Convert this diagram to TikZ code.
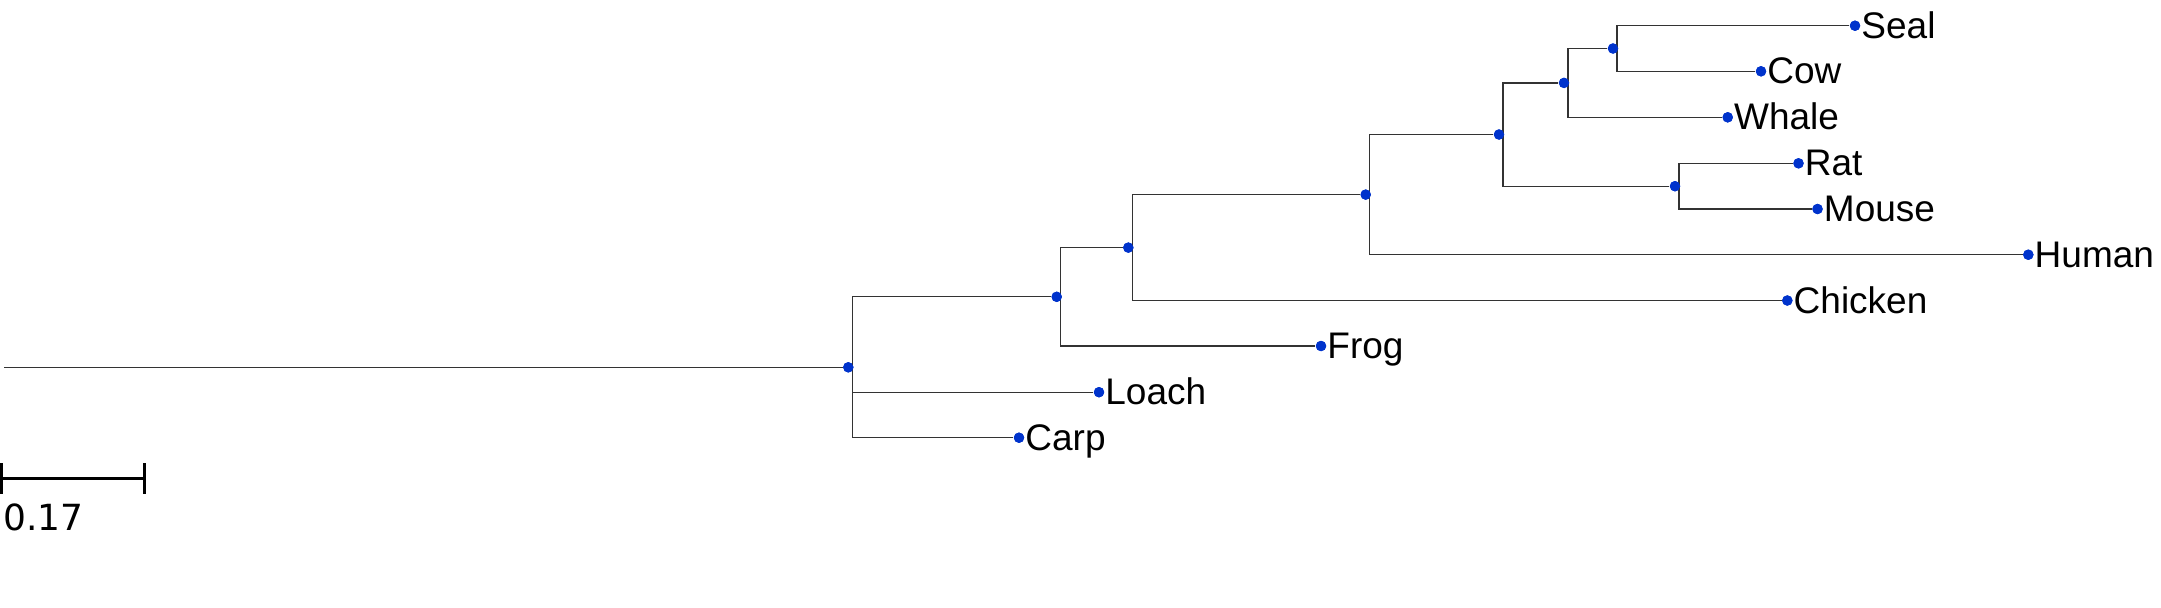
\documentclass[tikz,border=0pt]{standalone}
\usepackage{fontspec}
\setmainfont{Liberation Sans}
\newfontfamily\dejavu{DejaVu Sans}
\definecolor{dotblue}{RGB}{0,51,204}
\begin{document}
\begin{tikzpicture}[x=0.5pt,y=-0.5pt,
  dotnode/.style={circle,fill=dotblue,inner sep=0pt,minimum size=5.2pt},
  branch/.style={draw=black!80,line width=0.6pt},
  lab/.style={anchor=base west,inner sep=0pt,font=\fontsize{18.5pt}{20pt}\selectfont},
  scalebar/.style={draw=black,line width=1.3pt}]
\useasboundingbox (0,0) rectangle (2161,607);
% internal nodes
\node[dotnode] (R)  at (848.3,367.3) {};
\node[dotnode] (n1) at (1056.7,296.8) {};
\node[dotnode] (n2) at (1128.3,247.6) {};
\node[dotnode] (n3) at (1365.7,194.6) {};
\node[dotnode] (n4) at (1499,134.5) {};
\node[dotnode] (n5) at (1564,82.9) {};
\node[dotnode] (n6) at (1613,48.5) {};
\node[dotnode] (n7) at (1675,186.2) {};
% tips
\node[dotnode] (seal)    at (1855,25.7) {};
\node[dotnode] (cow)     at (1761,71.3) {};
\node[dotnode] (whale)   at (1727.7,117.3) {};
\node[dotnode] (rat)     at (1798.5,163.3) {};
\node[dotnode] (mouse)   at (1817.5,209) {};
\node[dotnode] (human)   at (2028.3,254.7) {};
\node[dotnode] (chicken) at (1787.3,300.5) {};
\node[dotnode] (frog)    at (1321,346) {};
\node[dotnode] (loach)   at (1099,392.2) {};
\node[dotnode] (carp)    at (1019,437.7) {};
\coordinate (rootstart) at (4,367.3);
% branches
\draw[branch] (rootstart) -- (R);
\foreach \p/\c in {R/n1,R/loach,R/carp,n1/n2,n1/frog,n2/n3,n2/chicken,n3/n4,n3/human,n4/n5,n4/n7,n5/n6,n5/whale,n6/seal,n6/cow,n7/rat,n7/mouse}
  \draw[branch] ([xshift=2pt]\p.center) |- (\c);
% dots on top
\foreach \n in {R,n1,n2,n3,n4,n5,n6,n7,seal,cow,whale,rat,mouse,human,chicken,frog,loach,carp}
  \fill[dotblue] (\n.center) circle (2.6pt);
% labels
\foreach \n/\t in {seal/Seal,cow/Cow,whale/Whale,rat/Rat,mouse/Mouse,human/Human,chicken/Chicken,frog/Frog,loach/Loach,carp/Carp}
  \node[lab] (\n L) at ([shift={(6,12.5)}]\n.center) {\t};
% scale bar
\coordinate (sbL) at (1.7,478.3);
\coordinate (sbR) at (144.3,478.3);
\draw[scalebar] (sbL) -- (sbR);
\draw[scalebar] ([yshift=7.6pt]sbL) -- ([yshift=-7.6pt]sbL);
\draw[scalebar] ([yshift=7.6pt]sbR) -- ([yshift=-7.6pt]sbR);
\node[anchor=base west,inner sep=0pt,font=\dejavu\fontsize{18pt}{20pt}\selectfont] (sblabel) at (3,530) {0.17};
\end{tikzpicture}
\end{document}
